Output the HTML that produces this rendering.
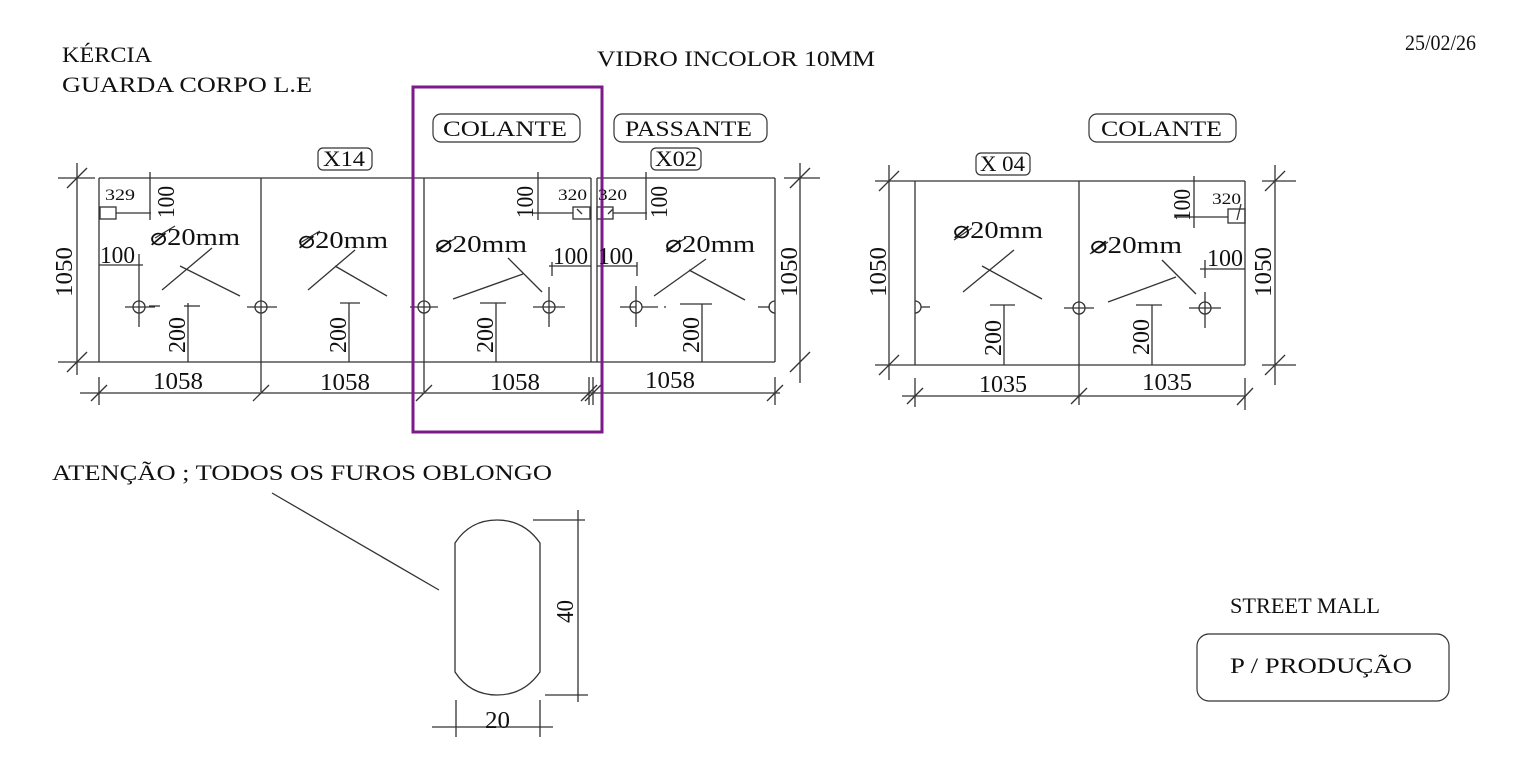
<!DOCTYPE html>
<html><head><meta charset="utf-8"><style>
html,body{margin:0;padding:0;background:#fff;}
svg{display:block;}
text{font-family:"Liberation Serif",serif;fill:#111;}
</style></head><body>
<svg width="1535" height="767" viewBox="0 0 1535 767" xmlns="http://www.w3.org/2000/svg">
<g stroke="#333" stroke-width="1.3" fill="none">
<line x1="99" y1="178" x2="591" y2="178"/>
<line x1="597" y1="178" x2="775" y2="178"/>
<line x1="58" y1="362" x2="775" y2="362"/>
<line x1="99" y1="178" x2="99" y2="362"/>
<line x1="261" y1="178" x2="261" y2="392"/>
<line x1="424" y1="178" x2="424" y2="392"/>
<line x1="591" y1="178" x2="591" y2="362"/>
<line x1="597" y1="178" x2="597" y2="362"/>
<line x1="775" y1="178" x2="775" y2="362"/>
<line x1="58" y1="178" x2="95" y2="178"/>
<line x1="77" y1="163" x2="77" y2="375"/>
<line x1="67" y1="188" x2="87" y2="168"/>
<line x1="67" y1="372" x2="87" y2="352"/>
<line x1="80" y1="393" x2="780" y2="393"/>
<line x1="99" y1="377" x2="99" y2="405"/>
<line x1="589" y1="377" x2="589" y2="405"/>
<line x1="593" y1="377" x2="593" y2="405"/>
<line x1="775" y1="377" x2="775" y2="405"/>
<line x1="91" y1="401" x2="107" y2="385"/><line x1="253" y1="401" x2="269" y2="385"/>
<line x1="416" y1="401" x2="432" y2="385"/><line x1="581" y1="401" x2="597" y2="385"/>
<line x1="585" y1="401" x2="601" y2="385"/><line x1="767" y1="401" x2="783" y2="385"/>
<line x1="800" y1="163" x2="800" y2="383"/>
<line x1="784" y1="178" x2="820" y2="178"/>
<line x1="790" y1="188" x2="810" y2="168"/>
<line x1="790" y1="372" x2="810" y2="352"/>
<rect x="100" y="207" width="16" height="12"/>
<line x1="116" y1="213" x2="151" y2="213"/>
<line x1="150" y1="172" x2="150" y2="220"/>
<line x1="99" y1="265" x2="143" y2="265"/>
<line x1="139" y1="254" x2="139" y2="327"/>
<rect x="573" y="207" width="17" height="12"/><line x1="577" y1="209" x2="582" y2="214"/>
<rect x="597" y="207" width="16" height="12"/><line x1="613" y1="209" x2="608" y2="214"/>
<line x1="533" y1="213" x2="573" y2="213"/><line x1="538" y1="172" x2="538" y2="220"/>
<line x1="613" y1="213" x2="647" y2="213"/><line x1="646" y1="172" x2="646" y2="220"/>
<line x1="549" y1="266" x2="591" y2="266"/><line x1="552" y1="262" x2="552" y2="276"/>
<line x1="597" y1="266" x2="637" y2="266"/><line x1="637" y1="262" x2="637" y2="276"/>
<line x1="549" y1="287" x2="549" y2="327"/>
<line x1="636" y1="286" x2="636" y2="327"/>
<circle cx="139" cy="307" r="6"/><line x1="125" y1="307" x2="155" y2="307"/>
<circle cx="261" cy="307" r="6"/><line x1="247" y1="307" x2="277" y2="307"/>
<circle cx="424" cy="307" r="6"/><line x1="410" y1="307" x2="438" y2="307"/>
<circle cx="549" cy="307" r="6"/><line x1="533" y1="307" x2="565" y2="307"/>
<circle cx="636" cy="307" r="6"/><line x1="620" y1="307" x2="666" y2="307" stroke-dasharray="16 6"/>
<path d="M775 301 A6 6 0 0 0 775 313"/><line x1="758" y1="307" x2="770" y2="307"/>
<line x1="149" y1="306" x2="160" y2="306"/><line x1="184" y1="306" x2="200" y2="306"/><line x1="188" y1="303" x2="188" y2="362"/>
<line x1="340" y1="303" x2="360" y2="303"/><line x1="349" y1="303" x2="349" y2="362"/>
<line x1="480" y1="303" x2="506" y2="303"/><line x1="496" y1="303" x2="496" y2="362"/>
<line x1="680" y1="304" x2="712" y2="304"/><line x1="702" y1="304" x2="702" y2="362"/>
<line x1="162" y1="290" x2="212" y2="248"/><line x1="180" y1="266" x2="240" y2="296"/>
<line x1="308" y1="290" x2="355" y2="250"/><line x1="335" y1="266" x2="387" y2="296"/>
<line x1="453" y1="299" x2="523" y2="274"/><line x1="508" y1="258" x2="542" y2="292"/>
<line x1="654" y1="296" x2="706" y2="259"/><line x1="689" y1="270" x2="745" y2="300"/>
<line x1="155" y1="238" x2="175" y2="226"/><line x1="300" y1="243" x2="320" y2="231"/>
<line x1="436" y1="250" x2="456" y2="238"/><line x1="666" y1="250" x2="686" y2="238"/>
<line x1="875" y1="181" x2="1245" y2="181"/>
<line x1="875" y1="365" x2="1245" y2="365"/>
<line x1="915" y1="181" x2="915" y2="365"/>
<line x1="1079" y1="181" x2="1079" y2="405"/>
<line x1="1245" y1="181" x2="1245" y2="365"/>
<line x1="889" y1="165" x2="889" y2="380"/>
<line x1="879" y1="191" x2="899" y2="171"/><line x1="879" y1="375" x2="899" y2="355"/>
<line x1="1275" y1="165" x2="1275" y2="385"/>
<line x1="1262" y1="181" x2="1296" y2="181"/><line x1="1262" y1="365" x2="1296" y2="365"/>
<line x1="1265" y1="191" x2="1285" y2="171"/><line x1="1265" y1="375" x2="1285" y2="355"/>
<line x1="902" y1="396" x2="1245" y2="396"/>
<line x1="915" y1="378" x2="915" y2="407"/><line x1="1245" y1="378" x2="1245" y2="410"/>
<line x1="907" y1="404" x2="923" y2="388"/><line x1="1071" y1="404" x2="1087" y2="388"/><line x1="1237" y1="405" x2="1253" y2="388"/>
<rect x="1228" y="209" width="17" height="14"/><line x1="1237" y1="220" x2="1241" y2="204"/>
<line x1="1174" y1="217" x2="1228" y2="217"/><line x1="1194" y1="176" x2="1194" y2="228"/>
<line x1="1200" y1="269" x2="1245" y2="269"/><line x1="1205" y1="260" x2="1205" y2="278"/>
<path d="M915 301 A6 6 0 0 1 915 313"/><line x1="921" y1="307" x2="930" y2="307"/>
<circle cx="1079" cy="308" r="6"/><line x1="1064" y1="308" x2="1094" y2="308"/>
<circle cx="1205" cy="308" r="6"/><line x1="1189" y1="308" x2="1221" y2="308"/><line x1="1205" y1="292" x2="1205" y2="328"/>
<line x1="990" y1="305" x2="1015" y2="305"/><line x1="1004" y1="305" x2="1004" y2="365"/>
<line x1="1136" y1="305" x2="1162" y2="305"/><line x1="1152" y1="305" x2="1152" y2="365"/>
<line x1="963" y1="292" x2="1014" y2="250"/><line x1="982" y1="266" x2="1042" y2="299"/>
<line x1="1108" y1="302" x2="1176" y2="277"/><line x1="1162" y1="260" x2="1196" y2="294"/>
<line x1="954" y1="240" x2="972" y2="228"/><line x1="1090" y1="254" x2="1108" y2="242"/>
<path d="M455 543 Q470 520 497 520 Q524 520 540 543 L540 672 Q524 695 497 695 Q470 695 455 672 Z"/>
<line x1="533" y1="520" x2="585" y2="520"/><line x1="545" y1="695" x2="588" y2="695"/>
<line x1="578" y1="510" x2="578" y2="702"/>
<line x1="432" y1="727" x2="553" y2="727"/>
<line x1="456" y1="700" x2="456" y2="737"/><line x1="540" y1="700" x2="540" y2="737"/>
<line x1="272" y1="493" x2="439" y2="590"/>
</g>
<g stroke="#333" stroke-width="1.2" fill="none">
<rect x="433" y="114" width="147" height="28" rx="8"/>
<rect x="614" y="114" width="153" height="28" rx="8"/>
<rect x="1089" y="114" width="147" height="28" rx="8"/>
<rect x="318" y="148" width="54" height="22" rx="5"/>
<rect x="651" y="148" width="50" height="22" rx="5"/>
<rect x="976" y="153" width="54" height="22" rx="5"/>
<rect x="1197" y="634" width="252" height="67" rx="12"/>
</g>
<rect x="413" y="87" width="189" height="345" fill="none" stroke="#7d1a8a" stroke-width="3"/>
<g font-size="22">
<text x="62" y="62" textLength="90" lengthAdjust="spacingAndGlyphs">KÉRCIA</text>
<text x="62" y="92" textLength="250" lengthAdjust="spacingAndGlyphs">GUARDA CORPO  L.E</text>
<text x="597" y="66" textLength="278" lengthAdjust="spacingAndGlyphs">VIDRO INCOLOR 10MM</text>
<text x="1405" y="50" textLength="71" lengthAdjust="spacingAndGlyphs">25/02/26</text>
<text x="443" y="136" textLength="124" lengthAdjust="spacingAndGlyphs">COLANTE</text>
<text x="625" y="136" textLength="127" lengthAdjust="spacingAndGlyphs">PASSANTE</text>
<text x="1101" y="136" textLength="121" lengthAdjust="spacingAndGlyphs">COLANTE</text>
<text x="323" y="166" textLength="42" lengthAdjust="spacingAndGlyphs">X14</text>
<text x="655" y="166" textLength="42" lengthAdjust="spacingAndGlyphs">X02</text>
<text x="980" y="171" textLength="45" lengthAdjust="spacingAndGlyphs">X 04</text>
<text x="52" y="480" textLength="500" lengthAdjust="spacingAndGlyphs">ATENÇÃO ; TODOS OS FUROS    OBLONGO</text>
<text x="1230" y="613" textLength="150" lengthAdjust="spacingAndGlyphs">STREET MALL</text>
<text x="1230" y="673" textLength="182" lengthAdjust="spacingAndGlyphs">P / PRODUÇÃO</text>
</g>
<g font-size="24">
<text x="153" y="389" textLength="50" lengthAdjust="spacingAndGlyphs">1058</text>
<text x="320" y="390" textLength="50" lengthAdjust="spacingAndGlyphs">1058</text>
<text x="490" y="390" textLength="50" lengthAdjust="spacingAndGlyphs">1058</text>
<text x="645" y="388" textLength="50" lengthAdjust="spacingAndGlyphs">1058</text>
<text x="979" y="392" textLength="48" lengthAdjust="spacingAndGlyphs">1035</text>
<text x="1142" y="390" textLength="50" lengthAdjust="spacingAndGlyphs">1035</text>
<text x="100" y="263" textLength="35" lengthAdjust="spacingAndGlyphs">100</text>
<text x="553" y="264" textLength="35" lengthAdjust="spacingAndGlyphs">100</text>
<text x="598" y="264" textLength="35" lengthAdjust="spacingAndGlyphs">100</text>
<text x="1207" y="266" textLength="36" lengthAdjust="spacingAndGlyphs">100</text>
<text x="150" y="245" textLength="90" lengthAdjust="spacingAndGlyphs">⌀20mm</text>
<text x="298" y="248" textLength="90" lengthAdjust="spacingAndGlyphs">⌀20mm</text>
<text x="435" y="252" textLength="92" lengthAdjust="spacingAndGlyphs">⌀20mm</text>
<text x="665" y="252" textLength="90" lengthAdjust="spacingAndGlyphs">⌀20mm</text>
<text x="953" y="238" textLength="90" lengthAdjust="spacingAndGlyphs">⌀20mm</text>
<text x="1090" y="253" textLength="92" lengthAdjust="spacingAndGlyphs">⌀20mm</text>
<text x="485" y="728" textLength="25" lengthAdjust="spacingAndGlyphs">20</text>
<text transform="translate(72,297) rotate(-90)" textLength="50" lengthAdjust="spacingAndGlyphs">1050</text>
<text transform="translate(797,297) rotate(-90)" textLength="50" lengthAdjust="spacingAndGlyphs">1050</text>
<text transform="translate(886,297) rotate(-90)" textLength="50" lengthAdjust="spacingAndGlyphs">1050</text>
<text transform="translate(1271,297) rotate(-90)" textLength="50" lengthAdjust="spacingAndGlyphs">1050</text>
<text transform="translate(185,353) rotate(-90)" textLength="36" lengthAdjust="spacingAndGlyphs">200</text>
<text transform="translate(346,353) rotate(-90)" textLength="36" lengthAdjust="spacingAndGlyphs">200</text>
<text transform="translate(493,353) rotate(-90)" textLength="36" lengthAdjust="spacingAndGlyphs">200</text>
<text transform="translate(699,353) rotate(-90)" textLength="36" lengthAdjust="spacingAndGlyphs">200</text>
<text transform="translate(1001,356) rotate(-90)" textLength="36" lengthAdjust="spacingAndGlyphs">200</text>
<text transform="translate(1149,355) rotate(-90)" textLength="36" lengthAdjust="spacingAndGlyphs">200</text>
<text transform="translate(174,218) rotate(-90)" textLength="32" lengthAdjust="spacingAndGlyphs">100</text>
<text transform="translate(533,218) rotate(-90)" textLength="32" lengthAdjust="spacingAndGlyphs">100</text>
<text transform="translate(667,218) rotate(-90)" textLength="32" lengthAdjust="spacingAndGlyphs">100</text>
<text transform="translate(1190,221) rotate(-90)" textLength="32" lengthAdjust="spacingAndGlyphs">100</text>
<text transform="translate(573,623) rotate(-90)" textLength="23" lengthAdjust="spacingAndGlyphs">40</text>
</g>
<g font-size="16">
<text x="105" y="200" textLength="30" lengthAdjust="spacingAndGlyphs">329</text>
<text x="558" y="200" textLength="29" lengthAdjust="spacingAndGlyphs">320</text>
<text x="598" y="200" textLength="29" lengthAdjust="spacingAndGlyphs">320</text>
<text x="1212" y="204" textLength="29" lengthAdjust="spacingAndGlyphs">320</text>
</g>
</svg>
</body></html>
